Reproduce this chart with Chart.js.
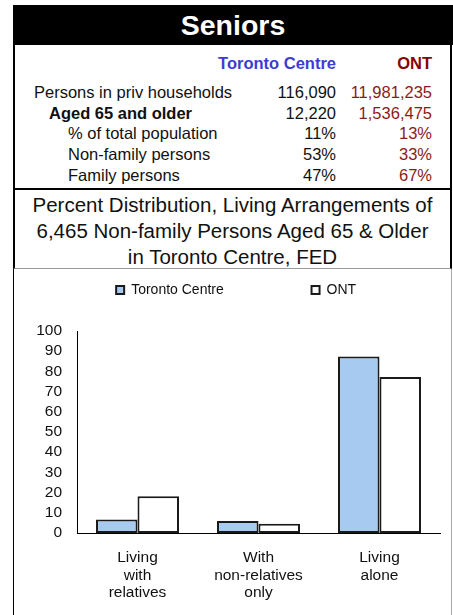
<!DOCTYPE html>
<html>
<head>
<meta charset="utf-8">
<script src="https://cdn.jsdelivr.net/npm/chart.js@4"></script>
<style>
  body { margin: 0; background: #fff; font-family: "Liberation Sans", Arial, sans-serif; }
  .abs { position: absolute; white-space: nowrap; }
  #header { left: 13px; top: 5px; width: 440px; height: 40px; background: #000; color: #fff;
            font-weight: bold; font-size: 28.5px; line-height: 40px; text-align: center; }
  #tableBox { left: 13px; top: 45px; width: 439px; height: 145px; box-sizing: border-box;
              border-left: 2px solid #000; border-right: 2px solid #000; border-bottom: 2px solid #000; }
  #subBox { left: 13px; top: 190px; width: 439px; height: 79px; box-sizing: border-box;
            border-left: 2px solid #000; border-right: 2px solid #000; border-bottom: 1px solid #999;
            text-align: center; font-size: 20.5px; line-height: 26px; color: #111; padding-top: 2px; }
  #chartBox { left: 13px; top: 269px; width: 439px; height: 346px; box-sizing: border-box;
              border-left: 1px solid #000; border-right: 1px solid #aaa; }
  .row { font-size: 16.5px; line-height: 20px; color: #111; }
  .num1 { right: 117px; text-align: right; }
  .num2 { right: 21px; text-align: right; color: #8b1a1a; }
</style>
</head>
<body>
<div id="header" class="abs">Seniors</div>
<div id="tableBox" class="abs"></div>
<div id="rows"></div>
<div id="subBox" class="abs">Percent Distribution, Living Arrangements of<br>6,465 Non-family Persons Aged 65 &amp; Older<br>in Toronto Centre, FED</div>
<div id="chartBox" class="abs"><div style="position:absolute;left:0;top:0;width:437px;height:346px;"><canvas id="myChart"></canvas></div></div>

<script>
document.addEventListener("DOMContentLoaded", function() {

// Summary table
const rowLabels = ["Persons in priv households", "Aged 65 and older", "% of total population", "Non-family persons", "Family persons"];
const rowTC = ["116,090", "12,220", "11%", "53%", "47%"];
const rowONT = ["11,981,235", "1,536,475", "13%", "33%", "67%"];
const rowCenters = [92, 113, 133, 154, 175];
const rowIndent = [34, 49, 68, 68, 68];

const rows = document.getElementById('rows');
let html = `
  <div class="abs row num1" style="top:53px;font-weight:bold;color:#3c3cd2;">Toronto Centre</div>
  <div class="abs row num2" style="top:53px;font-weight:bold;color:#8b0000;">ONT</div>`;
rowLabels.forEach((label, i) => {
  const top = rowCenters[i] - 10;
  const bold = i === 1 ? 'font-weight:bold;' : '';
  html += `
  <div class="abs row" style="top:${top}px;left:${rowIndent[i]}px;${bold}">${label}</div>
  <div class="abs row num1" style="top:${top}px;">${rowTC[i]}</div>
  <div class="abs row num2" style="top:${top}px;">${rowONT[i]}</div>`;
});
rows.innerHTML = html;


// Chart data
const categories = [["Living", "with", "relatives"], ["With", "non-relatives", "only"], ["Living", "alone"]];
const torontoValues = [6.7, 5.9, 87.4];
const ontValues = [18.2, 4.6, 77.2];
const yTicks = [0, 10, 20, 30, 40, 50, 60, 70, 80, 90, 100];

// push the plot area down below the legend
const legendGap = {
  id: 'legendGap',
  beforeInit(chart) {
    const origFit = chart.legend.fit;
    chart.legend.fit = function() {
      origFit.call(this);
      this.height += 24;
    };
  }
};

var ctx = document.getElementById('myChart').getContext('2d');

var myChart = new Chart(ctx, {
  type: "bar",
  data: {
    labels: categories,
    datasets: [{
      label: "Toronto Centre",
      data: torontoValues,
      backgroundColor: "#a6caf0",
      borderColor: "#1a1a1a",
      borderWidth: 2,
      borderSkipped: false
    }, {
      label: "ONT",
      data: ontValues,
      backgroundColor: "#ffffff",
      borderColor: "#1a1a1a",
      borderWidth: 2,
      borderSkipped: false
    }]
  },
  options: {
    responsive: true,
    maintainAspectRatio: false,
    animation: false,
    categoryPercentage: 0.686,
    barPercentage: 1.0,
    layout: { padding: { left: 0, right: 11, top: 4, bottom: 0 } },
    plugins: {
      tooltip: { enabled: false },
      legend: {
        position: 'top',
        align: 'end',
        labels: {
          boxWidth: 8,
          boxHeight: 8,
          color: '#111',
          font: { family: '"Liberation Sans", Arial', size: 14 },
          generateLabels: chart => {
            const items = Chart.defaults.plugins.legend.labels.generateLabels(chart);
            items[0].text = items[0].text + ' '.repeat(20);
            items[1].text = items[1].text + ' '.repeat(19);
            return items;
          }
        }
      }
    },
    scales: {
      x: {
        grid: { display: false, drawTicks: false },
        border: { display: true, color: '#000', width: 1 },
        ticks: {
          color: '#111',
          padding: 16,
          maxRotation: 0,
          autoSkip: false,
          font: { family: '"Liberation Sans", Arial', size: 15.5, lineHeight: 1.13 }
        },
        afterFit: scale => { scale.height = 82; }
      },
      y: {
        min: 0,
        max: 100,
        afterBuildTicks: scale => { scale.ticks = yTicks.map(v => ({ value: v })); },
        grid: { display: false, drawTicks: false },
        border: { display: true, color: '#000', width: 1 },
        ticks: {
          color: '#111',
          padding: 15,
          autoSkip: false,
          font: { family: '"Liberation Sans", Arial', size: 15.5 }
        },
        afterFit: scale => { scale.width = 63; }
      }
    }
  },
  plugins: [legendGap]
});

});
</script>
</body>
</html>
